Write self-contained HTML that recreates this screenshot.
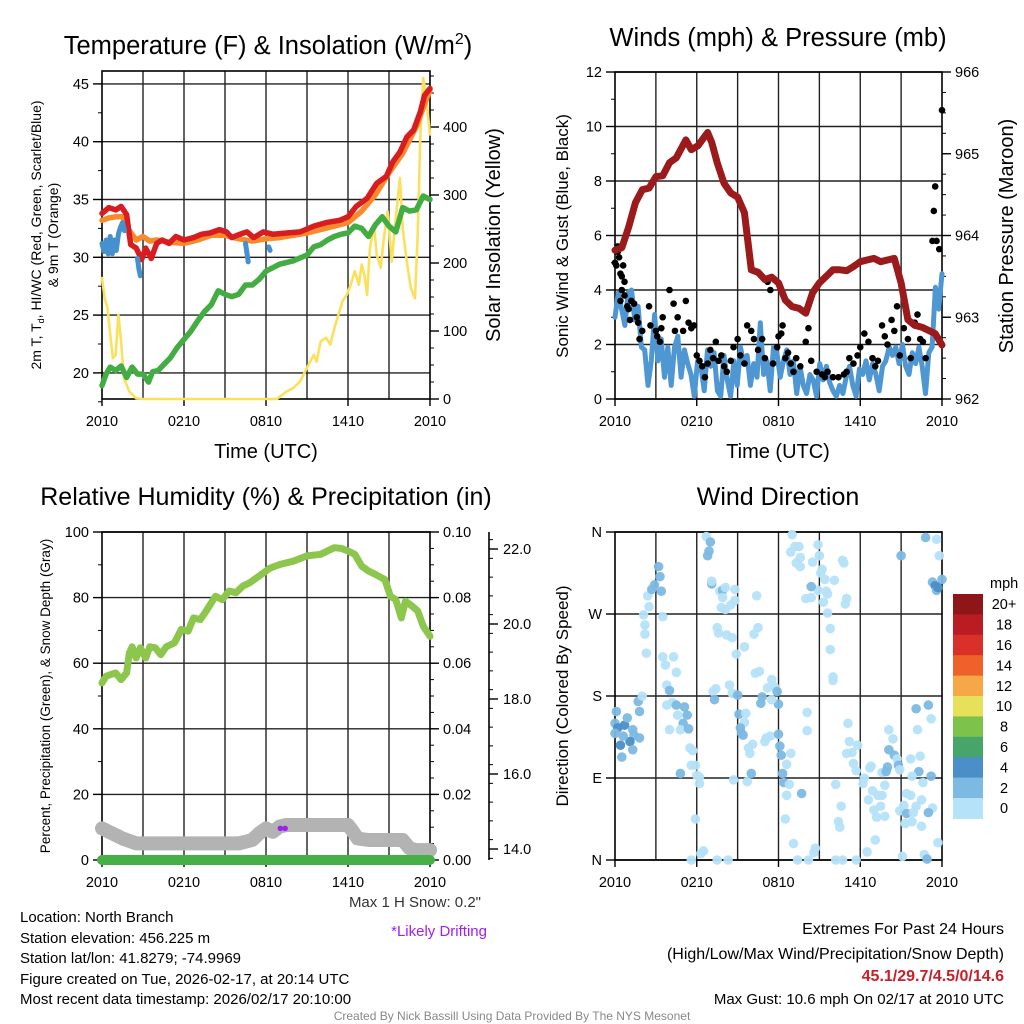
<!DOCTYPE html>
<html><head><meta charset="utf-8"><style>
html,body{margin:0;padding:0;background:#fff;}
svg{display:block;font-family:"Liberation Sans",Arial,sans-serif;}
</style></head><body>
<svg id="fig" width="1024" height="1024" viewBox="0 0 1024 1024" xmlns="http://www.w3.org/2000/svg">
<g id="layer"></g>
<g><text x="268" y="54" font-size="25.5" text-anchor="middle">Temperature (F) &amp; Insolation (W/m<tspan font-size="16" dy="-10">2</tspan><tspan dy="10">)</tspan></text></g>
<text x="778" y="46" font-size="25.5" text-anchor="middle">Winds (mph) &amp; Pressure (mb)</text>
<text x="266" y="505" font-size="25" text-anchor="middle">Relative Humidity (%) &amp; Precipitation (in)</text>
<text x="778" y="505" font-size="25" text-anchor="middle">Wind Direction</text>
<text x="266" y="458" font-size="20" text-anchor="middle">Time (UTC)</text>
<text x="778" y="458" font-size="20" text-anchor="middle">Time (UTC)</text>
<text transform="translate(41,235) rotate(-90)" font-size="14" text-anchor="middle">2m T, T<tspan font-size="9" dy="3">d</tspan><tspan dy="-3">, HI/WC (Red, Green, Scarlet/Blue)</tspan></text>
<text transform="translate(58,235) rotate(-90)" font-size="14" text-anchor="middle">&amp; 9m T (Orange)</text>
<text transform="translate(500,235) rotate(-90)" font-size="20" text-anchor="middle">Solar Insolation (Yellow)</text>
<text transform="translate(568,236) rotate(-90)" font-size="17" text-anchor="middle">Sonic Wind &amp; Gust (Blue, Black)</text>
<text transform="translate(1013,236) rotate(-90)" font-size="20" text-anchor="middle">Station Pressure (Maroon)</text>
<text transform="translate(50,696) rotate(-90)" font-size="13.5" text-anchor="middle">Percent, Precipitation (Green), &amp; Snow Depth (Gray)</text>
<text transform="translate(568,696) rotate(-90)" font-size="17" text-anchor="middle">Direction (Colored By Speed)</text>
<g font-size="15">
<text x="20" y="922">Location: North Branch</text>
<text x="20" y="943">Station elevation: 456.225 m</text>
<text x="20" y="963">Station lat/lon: 41.8279; -74.9969</text>
<text x="20" y="984">Figure created on Tue, 2026-02-17, at 20:14 UTC</text>
<text x="20" y="1004">Most recent data timestamp: 2026/02/17 20:10:00</text>
</g>
<text x="481" y="907" font-size="15" text-anchor="end" fill="#333">Max 1 H Snow: 0.2"</text>
<text x="487" y="936" font-size="15" text-anchor="end" fill="#a020f0">*Likely Drifting</text>
<text x="1004" y="934" font-size="16" text-anchor="end">Extremes For Past 24 Hours</text>
<text x="1004" y="959" font-size="16" text-anchor="end">(High/Low/Max Wind/Precipitation/Snow Depth)</text>
<text x="1004" y="981" font-size="16" font-weight="bold" text-anchor="end" fill="#c8202a">45.1/29.7/4.5/0/14.6</text>
<text x="1004" y="1004" font-size="15" text-anchor="end">Max Gust: 10.6 mph On 02/17 at 2010 UTC</text>
<text x="512" y="1020" font-size="12" text-anchor="middle" fill="#888">Created By Nick Bassill Using Data Provided By The NYS Mesonet</text>
</svg>
<script>
// ---------- DATA ----------
const xTickLabels = ["2010","0210","0810","1410","2010"];
const tempTicks = [20,25,30,35,40,45];
const insolTicks = [0,100,200,300,400];
const windTicks = [0,2,4,6,8,10,12];
const presTicks = [962,963,964,965,966];
const rhTicks = [0,20,40,60,80,100];
const precipTicks = ["0.00","0.02","0.04","0.06","0.08","0.10"];
const snowTicks = [14,16,18,20,22];
const dirLabels = ["N","E","S","W","N"];
const speedBins = ["0","2","4","6","8","10","12","14","16","18","20+"];

const redT = [0,0.5,1,1.4,1.8,2.1,2.5,2.9,3.2,3.6,4,4.4,4.9,5.4,6,6.7,7.3,7.9,8.6,9.1,9.5,10.1,10.6,11.1,11.8,12.5,13.5,14.5,15.5,16.4,17.4,18,18.6,19.4,20.1,20.8,21.3,21.8,22.3,22.8,23.3,23.6,24];
const redV = [33.8,34.3,34.1,34.4,33.7,31.1,30.8,29.8,30.8,29.9,31.2,31.5,31.2,31.8,31.5,31.7,32.0,32.1,32.4,32.2,31.7,32.0,32.2,31.7,32.2,32.0,32.1,32.2,32.7,33.0,33.2,33.5,34.4,35.1,36.4,37.0,38.3,39.1,40.4,41.0,42.6,44.0,44.6];
const orangeT = [0,0.5,1,1.5,2,2.5,3,3.5,4,5,6,7,8,9,10,11,12,13,14,15,16,17,18,19,20,21,22,23,24];
const orangeV = [33.2,33.4,33.5,33.5,32.3,31.5,31.8,31.4,31.5,31.3,31.2,31.5,31.9,31.9,31.6,31.4,31.6,31.7,31.9,32.1,32.4,32.7,33.0,34.0,35.4,37.3,39.0,41.3,44.5];
const blueT = [0,0.15,0.3,0.45,0.6,0.75,0.9,1.05,1.2,1.35,1.5,1.65,null,2.6,2.7,2.8,null,10.5,10.6,10.7,null,12.2,12.3];
const blueV = [31.2,30.5,31.5,30.3,31.8,30.3,31.5,30.6,32.0,32.6,33.0,32.3,null,29.9,29.0,28.4,null,31.2,30.4,29.6,null,30.9,30.6];
const dewT = [0,0.3,0.6,1,1.4,1.8,2.2,2.6,3,3.4,3.7,4.1,4.5,5,5.5,6,6.5,7,7.5,8,8.5,9,9.5,10,10.5,11,11.5,12,12.5,13,14,15,15.5,16,16.5,17,17.5,18,18.5,19,19.5,20,20.5,21,21.5,22,22.5,23,23.5,24];
const dewV = [18.9,19.9,20.5,20.2,20.6,19.6,20.5,19.9,19.9,19.2,20.1,20.2,20.7,21.3,22.2,22.9,23.6,24.5,25.3,25.9,27.1,26.8,26.6,26.8,27.6,27.6,28.1,28.8,29.1,29.4,29.7,30.2,30.9,31.1,31.5,31.8,32.0,32.1,32.7,32.5,31.8,32.8,33.5,32.7,32.2,34.3,34.0,34.1,35.3,35.0];
const solT = [0,0.2,0.4,0.6,0.8,1,1.2,1.4,1.6,2,2.5,3,12.8,13.5,14,14.5,15,15.5,15.7,16,16.4,16.7,17,17.3,17.6,17.9,18.2,18.5,18.8,19,19.2,19.4,19.6,19.9,20.1,20.4,20.6,20.9,21.2,21.5,21.8,22,22.3,22.6,22.9,23.1,23.3,23.5,23.7,24];
const solV = [178,148,134,95,60,65,124,85,31,11,1,0,0,11,16,26,46,65,55,85,90,80,104,124,144,153,168,188,168,198,183,153,222,256,212,193,232,276,202,266,325,251,202,163,148,241,389,472,448,389];

const windSpd = [3.0,3.9,3.3,2.7,3.9,4.0,2.9,3.4,1.9,1.8,0.5,1.4,3.1,1.4,2.2,0.8,1.9,0.5,1.9,2.3,0.8,1.8,1.3,0.9,0.1,1.4,1.2,0.3,1.8,1.2,1.7,0.3,0.1,1.6,0.7,0.1,1.4,0.5,1.9,1.3,1.6,0.5,1.3,0.8,2.8,0.9,1.4,0.3,1.9,1.7,0.8,1.4,1.8,0.9,1.4,0.2,1.2,0.5,0.2,0.9,0.7,0.1,1.3,0.7,1.2,0.6,0.3,0.1,0.5,0.2,0.8,1.2,0.5,0.1,1.1,0.9,1.4,0.7,1.3,0.9,0.3,1.2,1.4,1.9,1.6,1.9,1.3,2.0,1.2,0.9,1.7,1.3,1.9,1.2,0.2,1.7,1.9,4.1,3.3,4.6];
const gustT = [0,0.1,0.2,0.3,0.4,0.5,0.6,0.4,0.7,0.9,1.0,0.7,0.5,0.2,1.1,1.2,1.4,1.6,1.7,1.8,2.0,2.5,2.6,3.0,3.1,3.3,3.4,3.5,4.0,4.3,4.4,4.6,5.0,5.2,5.4,5.6,5.8,6.0,6.2,6.4,6.6,6.8,7.0,7.2,7.4,7.6,7.8,8.0,8.2,8.5,8.7,9.0,9.2,9.5,9.7,10.0,10.2,10.5,10.8,11.0,11.2,11.4,11.6,11.9,12.0,12.2,12.3,12.5,12.7,12.9,13.1,13.3,13.6,14.0,14.2,14.4,14.8,15.2,15.4,15.6,16.0,16.4,16.8,17.0,17.2,17.5,17.8,18.0,18.3,18.6,18.9,19.1,19.3,19.6,19.8,20.0,20.3,20.5,20.7,20.9,21.2,21.5,21.7,22.0,22.2,22.4,22.6,22.8,23.3,23.4,23.5,23.6,23.8,24];
const gustV = [5.0,4.9,5.4,5.2,4.6,4.0,4.9,3.6,3.8,3.4,3.3,4.3,4.5,5.6,2.9,3.6,3.5,3.0,2.8,2.2,2.5,3.4,2.7,2.5,2.3,2.1,2.6,3.0,4.0,3.5,2.5,3.0,2.5,3.6,2.8,2.6,2.7,1.6,1.4,1.2,0.8,1.3,1.8,1.5,2.1,1.4,1.6,1.2,1.0,1.4,1.9,2.2,1.6,1.3,2.7,2.5,2.2,1.8,2.2,1.5,4.3,4.0,1.3,1.9,2.3,2.4,2.7,1.5,1.7,1.3,1.0,1.5,1.2,2.1,2.6,1.4,1.0,0.9,0.8,1.0,0.8,0.8,0.9,1.0,1.5,1.3,1.6,1.9,2.4,2.1,1.5,1.2,1.4,2.7,2.3,2.0,2.9,2.5,3.4,1.6,2.6,2.2,1.5,2.8,3.1,2.2,2.1,1.5,5.8,6.9,7.8,5.8,5.5,10.6];
const presT = [0,0.5,1,1.5,2,2.5,3,3.5,4,4.5,5.2,5.6,6.1,6.8,7.1,7.5,8,8.5,9,9.5,10,10.5,11,11.5,12,12.5,13,13.5,14,14.5,15,15.5,16,16.5,17,17.5,18,18.5,19,19.5,20,20.5,21,21.5,22,22.5,23,23.5,24];
const presV = [963.82,963.85,964.1,964.4,964.56,964.58,964.72,964.73,964.89,964.95,965.17,965.05,965.1,965.26,965.14,964.89,964.64,964.52,964.47,964.28,963.58,963.55,963.46,963.49,963.42,963.21,963.13,963.11,963.05,963.3,963.42,963.5,963.58,963.58,963.57,963.62,963.68,963.7,963.72,963.68,963.7,963.72,963.42,962.97,962.9,962.88,962.84,962.8,962.66];

const rhT = [0,0.3,0.6,1,1.4,1.8,2,2.2,2.5,2.8,3.2,3.5,3.9,4.3,4.7,5.3,5.8,6.3,6.7,7.2,7.7,8.3,8.8,9.3,9.8,10.3,10.8,11.5,12.3,13,14,15,16,17,17.5,18,18.5,19,19.5,20,20.7,21.1,21.5,21.9,22.2,22.7,23.1,23.5,24];
const rhV = [54,56,56.5,57,55,57,63,65,61.6,64.7,61.6,65,64.7,62.6,65,66.2,70.3,69.8,73.8,73.3,76.4,80.4,79.4,82,81.5,83.5,84.5,86.6,89,90.1,91.1,92.7,93.2,95.2,95,94.2,93.2,89.6,88.1,87.1,85.5,80.4,79.4,73.8,78.9,77.4,75.9,71.3,68.2];
const snowT = [0,0.5,1,1.5,2.5,10,11,11.5,12,12.5,13,13.5,18,18.3,18.7,19.5,20.5,22,22.5,23,24];
const snowV = [14.55,14.46,14.37,14.28,14.15,14.15,14.24,14.42,14.55,14.46,14.6,14.64,14.64,14.5,14.28,14.24,14.24,14.24,14.02,13.97,13.97];
const precipT = [0,24];
const precipV = [0,0];
const driftT = [13.05,13.4];
const driftV = [14.55,14.55];

const dirT = [0.1,0,0.2,0,0.7,0.9,1.3,1.4,1.1,0.4,0.6,1.3,0.5,1.8,1.8,1.7,2,2.3,2.2,2.2,2.1,2.5,2.4,2.7,2.9,3.2,3.3,3.4,3.5,3.5,3.7,4.3,4.5,3.8,4,4.2,3.8,4.5,5.1,4.6,5,5.3,4,4.8,5.4,5.5,5.7,5.6,5.9,4.8,6,6.2,6.2,5.9,6.5,6.3,5.6,6.7,7,6.9,6.8,7.1,7.1,7.7,7.9,8.1,7.9,7.8,8.1,8.5,8.8,8.8,7.5,7.6,8.2,8.6,8.9,9.5,8.4,7.2,7.4,7.3,8.6,9,9.1,9.6,9.5,9.2,9.3,9.4,10.1,9.8,9.9,9.7,8.7,10,7.5,8.3,10.4,10.2,10.5,10.3,10.6,10.8,10.7,11.2,11.5,11.7,11.9,12,11.5,11,11.1,11.4,12,12.1,12.2,12.6,12.9,12.3,12.4,12.8,12.6,13.7,12.5,13.1,13.4,14.2,14.7,14.6,13,13.2,13.5,12.9,13.6,13.3,13.6,14.9,15,14.5,15.2,15.4,15.1,14.9,14.4,14,14.4,15.3,15.5,15.6,16.1,16.7,16.8,17,16.9,15.6,15.8,15.8,16,16,14.1,14.1,16.2,16.6,16.4,16.5,16.2,16.7,17.7,18.5,17.1,17.2,17,17.4,17.8,17.5,17.7,18.3,18.2,18.7,18.8,18.6,18.9,19.3,19.6,19.8,19,19.5,19.2,19.8,19.1,19.6,20.1,20.4,20.1,20.5,20.7,20,19.9,20.8,20.9,21,22.8,23.6,23.8,24,23.3,23.5,23.6,23.7,22.1,23,23.2,22.2,22.4,21.7,22.3,21.8,23.2,22.6,21.4,21.7,22.1,22.5,21.2,20.9,21.4,21.9,23.3,23,21.3,21.8,22.5,23.7,21.1,22.7,22.9];
const dirV = [163,150,145,139,148,156,143,137,130,126,136,121,113,134,163,174,180,227,248,258,269,278,290,297,302,322,311,295,267,223,214,223,206,192,186,173,170,170,168,159,150,159,143,143,144,123,120,104,104,95,93,91,84,45,10,7,0,355,349,339,334,303,306,295,296,299,288,277,275,280,285,297,255,249,247,244,226,234,192,185,188,176,183,181,160,161,151,145,139,137,127,123,117,86,88,95,0,0,290,248,255,205,207,179,172,189,198,190,185,171,176,130,134,136,138,125,115,105,117,95,85,83,71,73,45,18,0,0,13,8,357,344,344,338,332,326,322,346,334,327,319,308,315,296,300,287,288,283,295,292,307,329,326,287,281,271,254,231,201,197,162,142,83,59,42,36,0,0,0,9,150,130,117,118,126,106,98,90,84,101,103,66,76,71,71,82,55,59,47,48,22,96,143,133,121,115,111,102,97,104,99,334,354,352,334,308,305,301,296,299,166,170,155,143,114,111,97,92,92,85,73,71,59,66,60,54,51,52,57,52,40,42,37,19,4,6,1];
const dirSpd = [3,3,4,3,4,3,3,3,4,4,3,3,3,3,3,3,1,1,1,1,1,1,1,2,2,3,3,3,1,1,1,1,1,1,2,1,1,3,3,1,3,2,1,1,3,1,1,1,1,3,1,1,1,1,1,1,1,1,3,3,3,3,1,1,3,1,1,1,1,1,1,1,1,1,1,1,1,1,1,1,1,2,1,3,3,1,1,3,3,2,1,1,1,1,1,3,1,1,1,1,1,1,1,2,2,1,1,1,3,3,1,1,1,1,3,3,3,1,1,3,3,1,1,3,1,1,1,1,1,1,1,1,1,1,1,1,1,1,1,1,1,1,1,1,3,1,1,1,1,1,1,1,1,1,1,1,1,1,1,1,1,1,1,1,1,1,1,1,1,1,1,1,1,1,1,1,1,1,1,1,1,1,1,1,1,1,1,1,1,1,1,1,1,1,3,3,1,3,3,3,1,3,3,1,1,3,3,4,3,4,3,3,1,1,1,1,3,1,3,1,1,1,1,1,1,1,3,1,1,3,1,1,1,1,1,1,3,1,1,1];
const speedColors = ["#b5e2f8","#7cb9e3","#4a8fc8","#48a56a","#7dc24a","#e6e05a","#f6a846","#ee6129","#d9302a","#b91c23","#8e1518"];

// ---------- DRAW ----------
const NS = "http://www.w3.org/2000/svg";
const layer = document.getElementById("layer");
function mk(tag, attrs, parent) {
  const e = document.createElementNS(NS, tag);
  for (const k in attrs) e.setAttribute(k, attrs[k]);
  (parent || layer).appendChild(e);
  return e;
}
function lin(d0, d1, r0, r1) { return v => r0 + (v - d0) * (r1 - r0) / (d1 - d0); }
function pathD(xs, ys, sx, sy) {
  let d = "", pen = false;
  for (let i = 0; i < xs.length; i++) {
    if (xs[i] === null || ys[i] === null) { pen = false; continue; }
    d += (pen ? "L" : "M") + sx(xs[i]).toFixed(1) + "," + sy(ys[i]).toFixed(1);
    pen = true;
  }
  return d;
}
function series(name, xs, ys, sx, sy, color, w) {
  const p = mk("path", {d: pathD(xs, ys, sx, sy), fill: "none", stroke: color, "stroke-width": w, "stroke-linejoin": "round", "stroke-linecap": "round"});
  
  
  return p;
}
function panelFrame(name, L, R, T, B, hGrid) {
  const g = mk("g", {});
  
  
  for (let i = 1; i < 8; i++) {
    const x = L + (R - L) * i / 8;
    mk("line", {x1: x, x2: x, y1: T, y2: B, stroke: "#222", "stroke-width": 1.4}, g);
  }
  hGrid.forEach(y => mk("line", {x1: L, x2: R, y1: y, y2: y, stroke: "#222", "stroke-width": 1.4}, g));
  mk("rect", {x: L, y: T, width: R - L, height: B - T, fill: "none", stroke: "#000", "stroke-width": 1.6}, g);
  return g;
}
function xAxis(name, L, R, B) {
  const g = mk("g", {});
  
  
  xTickLabels.forEach((lab, i) => {
    const x = L + (R - L) * i / 4;
    mk("line", {x1: x, x2: x, y1: B, y2: B + 7, stroke: "#000", "stroke-width": 1.4}, g);
    const t = mk("text", {x: x, y: B + 27, "font-size": 14.5, "text-anchor": "middle"}, g);
    t.textContent = lab;
  });
}
function yAxis(name, ticks, labels, sy, x, side, minorStep, lo, hi) {
  const g = mk("g", {});
  
  
  const dir = side === "left" ? -1 : 1;
  if (minorStep) for (let v = lo; v <= hi + 1e-9; v += minorStep) {
    mk("line", {x1: x, x2: x + dir * 4, y1: sy(v), y2: sy(v), stroke: "#000", "stroke-width": 1}, g);
  }
  ticks.forEach((v, i) => {
    mk("line", {x1: x, x2: x + dir * 9, y1: sy(v), y2: sy(v), stroke: "#000", "stroke-width": 1.4}, g);
    const t = mk("text", {x: x + dir * 13, y: sy(v) + 5, "font-size": 14.5, "text-anchor": side === "left" ? "end" : "start"}, g);
    t.textContent = labels ? labels[i] : ticks[i];
  });
}

// Panel 1: temperature
(function(){
  const L = 102, R = 430, T = 71, B = 399;
  const sx = lin(0, 24, L, R), sy = lin(30, 35, 257.3, 199.5), sI = lin(0, 400, 399, 127);
  panelFrame("temp-plot-area", L, R, T, B, tempTicks.map(sy));
  yAxis("temp-y-axis", tempTicks, null, sy, L, "left", 2.5, 17.5, 46);
  yAxis("insolation-y-axis", insolTicks, null, sI, R, "right", 25, 0, 475);
  xAxis("temp-x-axis", L, R, B);
  series("insolation-line", solT, solV, sx, sI, "#fbe05c", 2.6);
  series("dewpoint-line", dewT, dewV, sx, sy, "#43ad43", 5.5);
  series("temp-9m-line", orangeT, orangeV, sx, sy, "#f78b2c", 5.5);
  series("temp-2m-line", redT, redV, sx, sy, "#d81d20", 5.5);
  series("heat-index-windchill-line", blueT, blueV, sx, sy, "#4690cf", 5);
})();

// Panel 2: winds
(function(){
  const L = 615, R = 942, T = 72, B = 399;
  const sx = lin(0, 24, L, R), sy = lin(0, 12, B, T), sp = lin(962, 966, B, T);
  panelFrame("wind-plot-area", L, R, T, B, windTicks.map(sy));
  yAxis("wind-y-axis", windTicks, null, sy, L, "left", 1, 0, 12);
  yAxis("pressure-y-axis", presTicks, null, sp, R, "right", 0.25, 962, 966);
  xAxis("wind-x-axis", L, R, B);
  const wt = windSpd.map((v, i) => 24 * i / (windSpd.length - 1));
  series("wind-speed-line", wt, windSpd, sx, sy, "#4f97d3", 5);
  const g = mk("g", {});
  
  
  gustT.forEach((t, i) => {
    const c = mk("circle", {cx: sx(t), cy: sy(gustV[i]), r: 3.3, fill: "#000"}, g);
    
    
  });
  series("pressure-line", presT, presV, sx, sp, "#9b1a1c", 7);
})();

// Panel 3: RH
(function(){
  const L = 102, R = 430, T = 532, B = 860;
  const sx = lin(0, 24, L, R), sy = lin(0, 100, B, T), ss = lin(14, 22, 849, 549);
  panelFrame("rh-plot-area", L, R, T, B, rhTicks.map(sy));
  yAxis("rh-y-axis", rhTicks, null, sy, L, "left", 10, 0, 100);
  yAxis("precip-y-axis", rhTicks, precipTicks, sy, R, "right", 5, 0, 100);
  const ax = mk("line", {x1: 489, x2: 489, y1: T, y2: B, stroke: "#000", "stroke-width": 1.6});
  
  
  const g = mk("g", {});
  
  
  for (let v = 13.75; v <= 22.3; v += 0.5) mk("line", {x1: 489, x2: 493, y1: ss(v), y2: ss(v), stroke: "#000", "stroke-width": 1}, g);
  snowTicks.forEach(v => {
    mk("line", {x1: 489, x2: 498, y1: ss(v), y2: ss(v), stroke: "#000", "stroke-width": 1.4}, g);
    const t = mk("text", {x: 503, y: ss(v) + 5, "font-size": 14.5}, g);
    t.textContent = v.toFixed(1);
  });
  xAxis("rh-x-axis", L, R, B);
  series("rh-line", rhT, rhV, sx, sy, "#8cc64c", 7);
  series("snow-depth-line", snowT, snowV, sx, ss, "#b3b3b3", 14);
  const sp = lin(0, 0.1, B, T);
  series("precip-line", precipT, precipV, sx, sp, "#45b045", 10);
  driftT.forEach((t, i) => {
    const c = mk("circle", {cx: sx(t), cy: ss(driftV[i]), r: 2.8, fill: "#a020f0"});
    
    
  });
})();

// Panel 4: wind direction
(function(){
  const L = 615, R = 942, T = 532, B = 860;
  const sx = lin(0, 24, L, R), sy = lin(0, 360, B, T);
  const dticks = [0, 90, 180, 270, 360];
  panelFrame("direction-plot-area", L, R, T, B, dticks.map(sy));
  yAxis("direction-y-axis", dticks, dirLabels, sy, L, "left", 0, 0, 0);
  xAxis("direction-x-axis", L, R, B);
  const g = mk("g", {});
  
  
  dirT.forEach((t, i) => {
    const bin = Math.min(10, Math.floor(dirSpd[i] / 2));
    const c = mk("circle", {cx: sx(t), cy: sy(dirV[i]), r: 4.8, fill: speedColors[bin], "fill-opacity": 0.95}, g);
    
    
  });
  const cb = mk("g", {});
  
  
  const top = 594, h = 20.4;
  const mt = mk("text", {x: 990, y: 588, "font-size": 14.5}, cb);
  mt.textContent = "mph";
  speedBins.forEach((lab, i) => {
    const idx = 10 - i;
    mk("rect", {x: 953, y: top + i * h, width: 30, height: h + 0.5, fill: speedColors[idx]}, cb);
    const t = mk("text", {x: 1004, y: top + i * h + h / 2 + 5, "font-size": 14.5, "text-anchor": "middle"}, cb);
    t.textContent = speedBins[idx];
  });
})();
</script>
</body></html>
